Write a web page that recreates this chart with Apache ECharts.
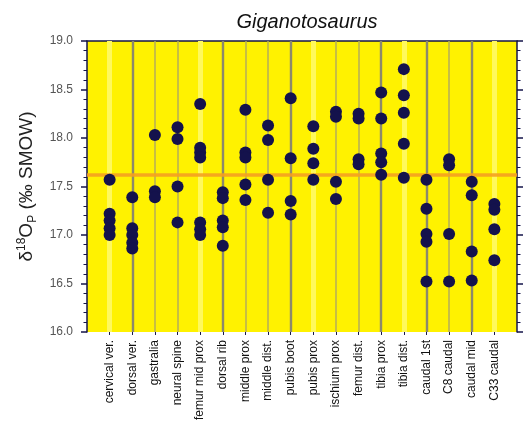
<!DOCTYPE html>
<html>
<head>
<meta charset="utf-8">
<script src="https://cdn.jsdelivr.net/npm/echarts@6/dist/echarts.min.js"></script>
<style>
  html, body { margin: 0; padding: 0; background: #ffffff; }
  #chart { width: 525px; height: 423px; }
</style>
</head>
<body>
<div id="chart"></div>
<script>
// Bone sampling sites along the skeleton
const categories = [
  'cervical ver.', 'dorsal ver.', 'gastralia', 'neural spine', 'femur mid prox',
  'dorsal rib', 'middle prox', 'middle dist.', 'pubis boot', 'pubis prox',
  'ischium prox', 'femur dist.', 'tibia prox', 'tibia dist.', 'caudal 1st',
  'C8 caudal', 'caudal mid', 'C33 caudal'
];

// δ18O of phosphate (‰ SMOW) for each site
const cervicalVer = [17.57, 17.22, 17.15, 17.07, 17.0];
const dorsalVer   = [17.39, 17.07, 17.0, 16.92, 16.86];
const gastralia   = [18.03, 17.45, 17.39];
const neuralSpine = [18.11, 17.99, 17.5, 17.13];
const femurMid    = [18.35, 17.9, 17.85, 17.8, 17.13, 17.06, 17.0];
const dorsalRib   = [17.44, 17.38, 17.15, 17.08, 16.89];
const middleProx  = [18.29, 17.85, 17.8, 17.52, 17.36];
const middleDist  = [18.13, 17.98, 17.57, 17.23];
const pubisBoot   = [18.41, 17.79, 17.35, 17.21];
const pubisProx   = [18.12, 17.89, 17.74, 17.57];
const ischiumProx = [18.27, 18.22, 17.55, 17.37];
const femurDist   = [18.25, 18.2, 17.78, 17.73];
const tibiaProx   = [18.47, 18.2, 17.84, 17.75, 17.62];
const tibiaDist   = [18.71, 18.44, 18.26, 17.94, 17.59];
const caudalFirst = [17.57, 17.27, 17.01, 16.93, 16.52];
const caudalC8    = [17.78, 17.72, 17.01, 16.52];
const caudalMid   = [17.55, 17.41, 16.83, 16.53];
const caudalC33   = [17.32, 17.26, 17.06, 16.74];

const samples = [
  cervicalVer, dorsalVer, gastralia, neuralSpine, femurMid, dorsalRib,
  middleProx, middleDist, pubisBoot, pubisProx, ischiumProx, femurDist,
  tibiaProx, tibiaDist, caudalFirst, caudalC8, caudalMid, caudalC33
];

// Whole-skeleton reference level
const referenceLevel = 17.62;

// Y tick values
const yTicks = [16.0, 16.5, 17.0, 17.5, 18.0, 18.5, 19.0];

// Shade of the vertical guide drawn through each site
const guideTone = [
  'pale', 'dark', 'light', 'light', 'pale', 'dark', 'light', 'light', 'dark',
  'pale', 'light', 'light', 'dark', 'pale', 'dark', 'light', 'dark', 'pale'
];

const guideStyles = {
  pale:  { color: '#fff95c', width: 5, type: 'solid' },
  light: { color: '#b5ac5a', width: 1.5, type: 'solid' },
  dark:  { color: '#8c896c', width: 2.4, type: 'solid' }
};

// Category axis with an empty slot at each end so sites sit at 1..18
const axisCats = [''].concat(categories, ['']);

const points = [];
samples.forEach((vals, i) => {
  vals.forEach(v => points.push([i + 1, v]));
});

const guideLines = categories.map((c, i) => ({
  xAxis: i + 1,
  lineStyle: guideStyles[guideTone[i]]
}));

const axisInk = '#15154a';
const font = 'Liberation Sans';

const chart = echarts.init(document.getElementById('chart'), null, { renderer: 'canvas' });

chart.setOption({
  animation: false,
  backgroundColor: '#ffffff',
  title: {
    text: 'Giganotosaurus',
    left: 302,
    top: 7,
    textAlign: 'center',
    textStyle: {
      fontFamily: font,
      fontStyle: 'italic',
      fontWeight: 'normal',
      fontSize: 20,
      color: '#111111'
    }
  },
  grid: {
    left: 87,
    right: 8,
    top: 41,
    bottom: 90,
    show: true,
    backgroundColor: '#fff200',
    borderWidth: 0
  },
  xAxis: [
    {
      type: 'category',
      data: axisCats,
      boundaryGap: false,
      position: 'bottom',
      axisLine: { show: false },
      axisTick: {
        show: true,
        length: 3,
        inside: false,
        lineStyle: { color: axisInk, width: 1 },
        interval: (idx) => idx > 0 && idx < axisCats.length - 1
      },
      splitLine: { show: false },
      axisLabel: {
        rotate: 90,
        margin: 8,
        interval: 0,
        fontFamily: font,
        fontSize: 12,
        color: '#111111'
      }
    },
    {
      type: 'category',
      data: axisCats,
      boundaryGap: false,
      position: 'top',
      axisLine: { show: true, lineStyle: { color: axisInk, width: 1.5 } },
      axisTick: { show: false },
      axisLabel: { show: false },
      splitLine: { show: false }
    }
  ],
  yAxis: [
    {
      type: 'value',
      min: 16,
      max: 19,
      interval: 0.5,
      position: 'left',
      name: '{d|δ}{sup|18}{d|O}{sub|P}{d| (‰ SMOW)}',
      nameLocation: 'middle',
      nameGap: 48,
      nameTextStyle: {
        fontFamily: font,
        fontSize: 19,
        color: '#222222',
        rich: {
          d:   { fontFamily: font, fontSize: 19, color: '#222222', lineHeight: 23 },
          sup: { fontFamily: font, fontSize: 12, color: '#222222', verticalAlign: 'top', lineHeight: 23, padding: [0, 0, 8, 0] },
          sub: { fontFamily: font, fontSize: 12, color: '#222222', verticalAlign: 'bottom', lineHeight: 23, padding: [7, 0, 0, 0] }
        }
      },
      axisLine: { show: true, lineStyle: { color: axisInk, width: 1.5 } },
      axisTick: { show: true, length: 6, lineStyle: { color: axisInk, width: 1.5 } },
      minorTick: { show: true, splitNumber: 5, length: 3.5, lineStyle: { color: axisInk, width: 1 } },
      splitLine: { show: false },
      axisLabel: {
        margin: 14,
        fontFamily: font,
        fontSize: 12,
        color: '#555555',
        formatter: (v) => yTicks.includes(v) ? v.toFixed(1) : ''
      }
    },
    {
      type: 'value',
      min: 16,
      max: 19,
      interval: 0.5,
      position: 'right',
      axisLine: { show: true, lineStyle: { color: axisInk, width: 1.5 } },
      axisTick: { show: true, length: 6, lineStyle: { color: axisInk, width: 1.5 } },
      minorTick: { show: true, splitNumber: 5, length: 3.5, lineStyle: { color: axisInk, width: 1 } },
      splitLine: { show: false },
      axisLabel: { show: false }
    }
  ],
  series: [
    {
      // vertical guides through every sampling site
      type: 'line',
      data: [],
      z: 1,
      silent: true,
      markLine: {
        z: 1,
        silent: true,
        symbol: 'none',
        label: { show: false },
        animation: false,
        data: guideLines
      }
    },
    {
      // reference level
      type: 'line',
      data: [],
      z: 2,
      silent: true,
      markLine: {
        z: 2,
        silent: true,
        symbol: 'none',
        label: { show: false },
        animation: false,
        lineStyle: { color: '#f5a020', width: 3.5, type: 'solid', opacity: 0.9 },
        data: [{ yAxis: referenceLevel }]
      }
    },
    {
      type: 'scatter',
      data: points,
      z: 4,
      symbol: 'circle',
      symbolSize: 12,
      itemStyle: { color: '#14124c', opacity: 1 }
    }
  ]
});
</script>
</body>
</html>
